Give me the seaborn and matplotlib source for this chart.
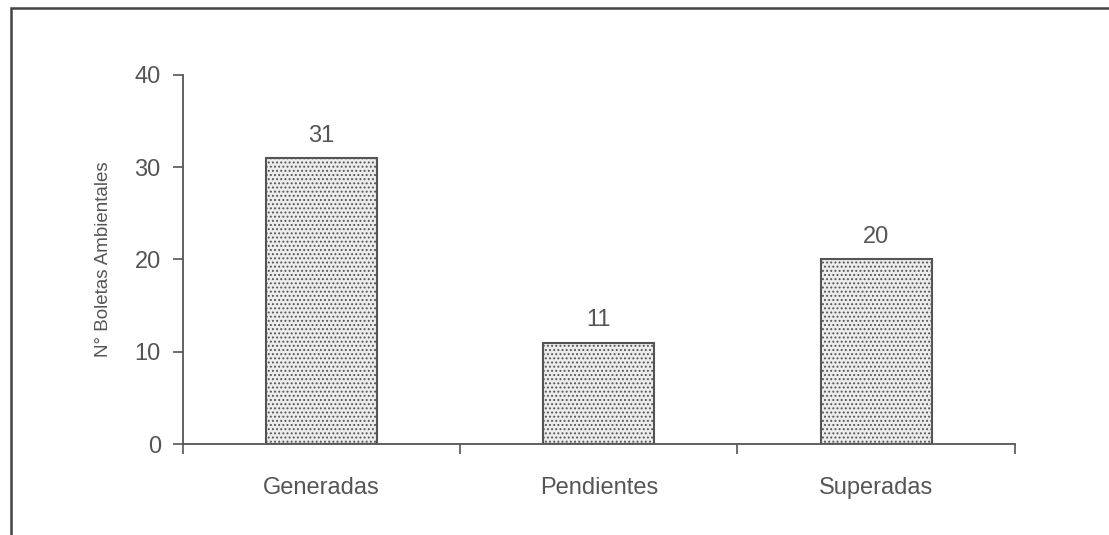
import matplotlib
matplotlib.use('Agg')
import matplotlib.pyplot as plt
import seaborn as sns
import pandas as pd
from matplotlib.patches import Rectangle

# data
categorias = ['Generadas', 'Pendientes', 'Superadas']
boletas = [31, 11, 20]

df = pd.DataFrame({'estado': categorias, 'n': boletas})

sns.set_style('white')
plt.rcParams['font.family'] = ['Liberation Sans', 'DejaVu Sans']
plt.rcParams['hatch.color'] = '#8a8a8a'
plt.rcParams['hatch.linewidth'] = 0.9

gris = '#555555'

fig = plt.figure(figsize=(11.09, 5.35), dpi=100)
ax = fig.add_axes([0.165, 0.170, 0.750, 0.690])

sns.barplot(data=df, x='estado', y='n', ax=ax, color='#ececec',
            width=0.4, edgecolor=gris, linewidth=1.5, saturation=1)
for p in ax.patches:
    p.set_hatch('....')

for i, v in enumerate(boletas):
    ax.text(i, v + 1.2, str(v), ha='center', va='bottom', fontsize=17, color=gris)

ax.set_ylim(0, 40)
ax.set_xlim(-0.5, 2.5)
ax.set_yticks([0, 10, 20, 30, 40])
ax.set_xticks([-0.5, 0.5, 1.5, 2.5], minor=True)
ax.tick_params(axis='x', which='major', bottom=False, length=0, pad=24,
               labelsize=17, labelcolor=gris)
ax.tick_params(axis='x', which='minor', bottom=True, length=7, width=1.2,
               color=gris, direction='out')
ax.tick_params(axis='y', length=7, width=1.2, color=gris, direction='out', left=True,
               labelsize=17, labelcolor=gris, pad=9)
ax.set_xlabel('')
ax.set_ylabel('N° Boletas Ambientales', fontsize=13.5, color=gris, labelpad=16)

sns.despine(ax=ax, top=True, right=True)
for s in ['left', 'bottom']:
    ax.spines[s].set_color(gris)
    ax.spines[s].set_linewidth(1.3)

# outer frame
fig.patches.append(Rectangle((0.010, -0.05), 1.1, 1.035, transform=fig.transFigure,
                             fill=False, edgecolor='#444444', linewidth=1.8))

fig.savefig('out.png', dpi=100)
